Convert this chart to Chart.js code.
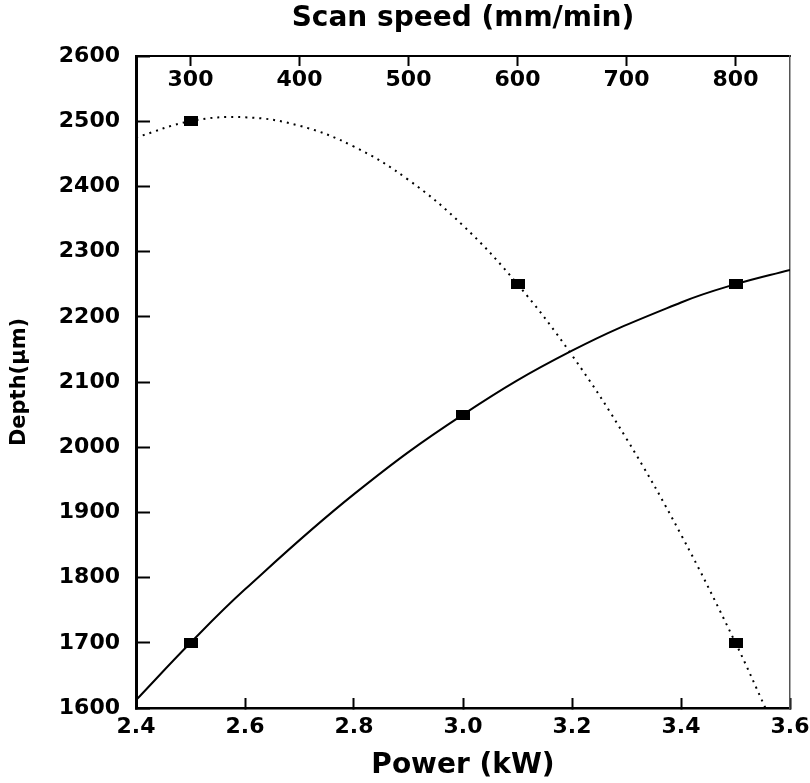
<!DOCTYPE html>
<html lang="en">
<head>
    <meta charset="UTF-8">
    <title>Depth vs Power and Scan speed</title>
    <script src="https://cdn.jsdelivr.net/npm/chart.js@4.4.1/dist/chart.umd.min.js"></script>
    <style>
        body { margin: 0; background: #fff; }
        #chart-container { width: 810px; height: 783px; }
    </style>
</head>
<body>
    <div id="chart-container">
        <canvas id="depthChart"></canvas>
    </div>

    <script>
        // measured points
        const powerKW = [2.5, 3.0, 3.5];
        const depthPower = [1700, 2050, 2250];
        const scanSpeed = [300, 600, 800];
        const depthSpeed = [2500, 2250, 1700];

        // fitted curves
        const powerCurveX = [2.4, 2.5, 2.6, 2.8, 3.0, 3.2, 3.4, 3.5, 3.6];
        const powerCurveY = [1612, 1700, 1782, 1928, 2050, 2148, 2222, 2250, 2272];
        const speedCurveX = [250, 300, 350, 400, 450, 500, 550, 600, 650, 700, 750, 800, 828];
        const speedCurveY = [2475, 2500, 2506, 2493, 2461, 2410, 2340, 2250, 2141, 2013, 1866, 1700, 1598];

        // tick labels
        const powerTicks = [2.4, 2.6, 2.8, 3.0, 3.2, 3.4, 3.6];
        const speedTicks = [300, 400, 500, 600, 700, 800];
        const depthTicks = [1600, 1700, 1800, 1900, 2000, 2100, 2200, 2300, 2400, 2500, 2600];

        const toPoints = (xs, ys) => xs.map((x, i) => ({ x: x, y: ys[i] }));
        const setTicks = values => s => { s.ticks = values.map(v => ({ value: v })); };

        // wide black square marker
        const marker = document.createElement('canvas');
        marker.width = 14;
        marker.height = 10;
        const mctx = marker.getContext('2d');
        mctx.fillStyle = '#000';
        mctx.fillRect(0, 0, 14, 10);

        Chart.defaults.color = '#000';
        Chart.defaults.font.family = '"DejaVu Sans", sans-serif';
        Chart.defaults.font.weight = 'bold';

        const tickFont = { size: 22, weight: 'bold' };
        const titleFont = { size: 28, weight: 'bold' };
        const noSidePadding = s => { s.paddingLeft = 0; s.paddingRight = 0; };

        const ctx = document.getElementById('depthChart').getContext('2d');
        const depthChart = new Chart(ctx, {
            type: 'line',
            data: {
                datasets: [
                    {
                        data: toPoints(powerCurveX, powerCurveY),
                        xAxisID: 'x',
                        yAxisID: 'y',
                        borderColor: '#000',
                        borderWidth: 2,
                        pointRadius: 0,
                        tension: 0.4
                    },
                    {
                        data: toPoints(speedCurveX, speedCurveY),
                        xAxisID: 'x2',
                        yAxisID: 'y',
                        borderColor: '#000',
                        borderWidth: 2,
                        borderDash: [2, 5],
                        pointRadius: 0,
                        tension: 0.4
                    },
                    {
                        data: toPoints(powerKW, depthPower),
                        xAxisID: 'x',
                        yAxisID: 'y',
                        showLine: false,
                        pointStyle: marker
                    },
                    {
                        data: toPoints(scanSpeed, depthSpeed),
                        xAxisID: 'x2',
                        yAxisID: 'y',
                        showLine: false,
                        pointStyle: marker
                    }
                ]
            },
            options: {
                responsive: true,
                maintainAspectRatio: false,
                animation: false,
                layout: { padding: 0 },
                plugins: {
                    legend: { display: false },
                    tooltip: { enabled: false }
                },
                scales: {
                    x: {
                        type: 'linear',
                        position: 'bottom',
                        min: 2.4,
                        max: 3.6,
                        afterBuildTicks: setTicks(powerTicks),
                        ticks: {
                            font: tickFont,
                            padding: 16,
                            callback: v => v.toFixed(1)
                        },
                        grid: { drawOnChartArea: false, tickLength: -10, tickWidth: 2, tickColor: '#000' },
                        border: { color: '#000', width: 2.5 },
                        title: { display: true, text: 'Power (kW)', font: titleFont, padding: { top: 0, bottom: 0 } },
                        afterFit: s => { s.height = 75; noSidePadding(s); }
                    },
                    x2: {
                        type: 'linear',
                        position: 'top',
                        min: 250,
                        max: 850,
                        afterBuildTicks: setTicks(speedTicks),
                        ticks: {
                            mirror: true,
                            font: tickFont,
                            padding: 11,
                            callback: v => String(v)
                        },
                        grid: { drawOnChartArea: false, tickLength: -10, tickWidth: 2, tickColor: '#000' },
                        border: { color: '#000', width: 2 },
                        title: { display: true, text: 'Scan speed (mm/min)', font: titleFont, padding: { top: 2, bottom: 0 } },
                        afterFit: s => { s.height = 56; noSidePadding(s); }
                    },
                    y: {
                        type: 'linear',
                        position: 'left',
                        min: 1600,
                        max: 2600,
                        afterBuildTicks: setTicks(depthTicks),
                        ticks: { font: tickFont, padding: 30, callback: v => String(v) },
                        grid: { drawOnChartArea: false, tickLength: -14, tickWidth: 2, tickColor: '#000' },
                        border: { color: '#000', width: 3 },
                        title: { display: true, text: 'Depth(μm)', font: { size: 21, weight: 'bold' }, padding: { top: 7, bottom: 0 } },
                        afterFit: s => { s.width = 136; }
                    },
                    y2: {
                        type: 'linear',
                        position: 'right',
                        min: 1600,
                        max: 2600,
                        ticks: { display: false },
                        grid: { drawOnChartArea: false, drawTicks: false },
                        border: { color: '#555', width: 1.5 },
                        afterFit: s => { s.width = 20; }
                    }
                }
            }
        });
    </script>
</body>
</html>
